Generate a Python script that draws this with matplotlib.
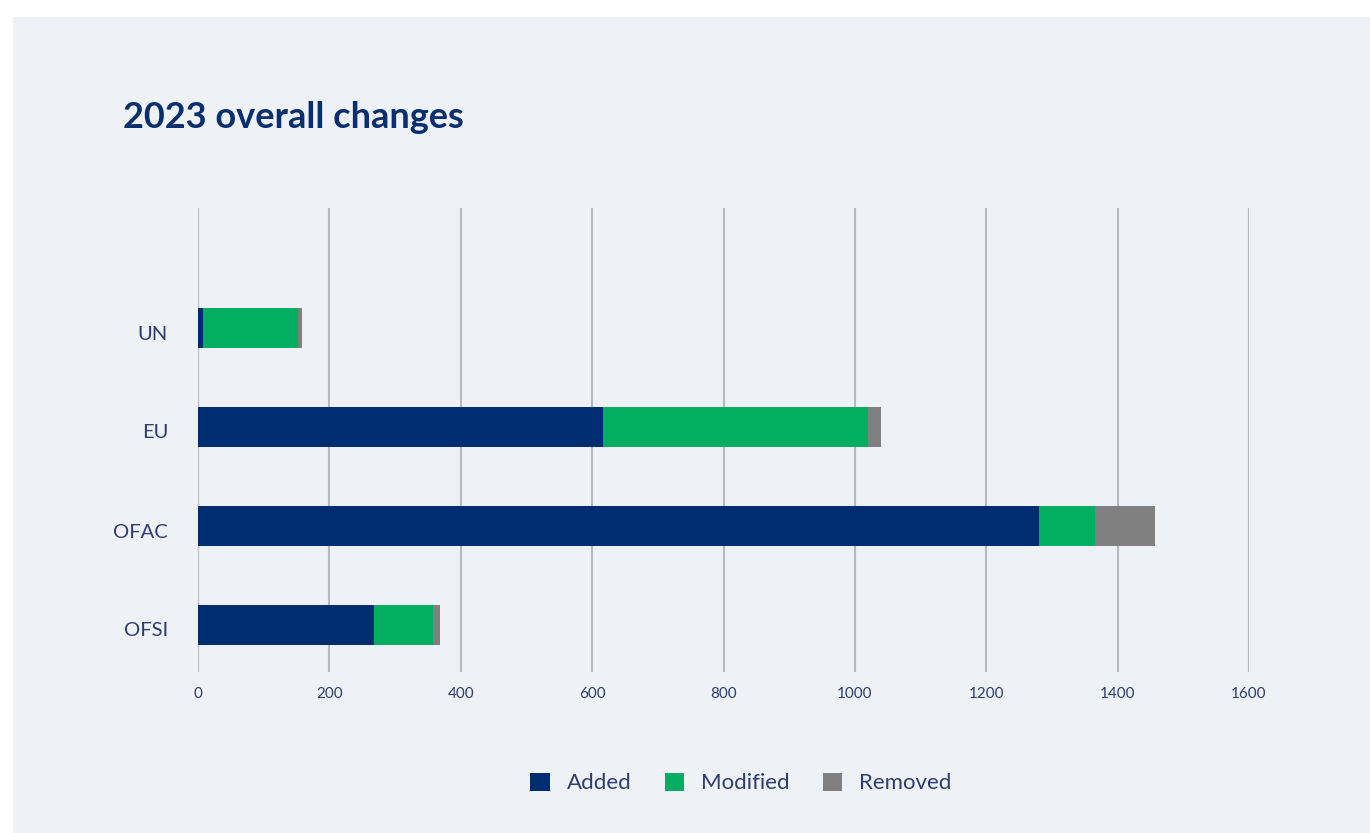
import matplotlib
matplotlib.use("Agg")
import matplotlib.pyplot as plt
from matplotlib.patches import Rectangle
import matplotlib.transforms as mtransforms
import numpy as np

categories = ["UN", "EU", "OFAC", "OFSI"]
added = [8, 617, 1280, 268]
modified = [144, 403, 86, 90]
removed = [6, 20, 91, 10]
series_names = ["Added", "Modified", "Removed"]
xticks = [0, 200, 400, 600, 800, 1000, 1200, 1400, 1600]

colors = ["#002d72", "#03ae62", "#808080"]
bg = "#eef2f6"
txt = "#2e3d6e"

plt.rcParams['font.family'] = ['Lato', 'DejaVu Sans']

W, H = 1370, 833
fig = plt.figure(figsize=(W/100, H/100), dpi=100)
fig.patch.set_facecolor("white")
fig.patches.append(Rectangle((13/W, 0), 1 - 13/W, (H-17)/H, transform=fig.transFigure,
                             facecolor=bg, edgecolor="none", zorder=-10))

ax = fig.add_axes([198/W, 1 - 672/H, (1249-198)/W, (672-208)/H])
ax.set_facecolor("none")

y = np.arange(len(categories))
left = np.zeros(len(categories))
for name, vals, c in zip(series_names, [added, modified, removed], colors):
    ax.barh(y, vals, left=left, height=0.41, color=c, label=name, zorder=3)
    left = left + np.array(vals)

ax.set_xlim(0, 1600)
ax.set_ylim(3 + 47/99, -120/99)
ax.set_xticks(xticks)
ax.set_xticklabels([str(t) for t in xticks], fontsize=11, color=txt)
ax.set_yticks(y)
ax.set_yticklabels([])
# category labels: right-aligned left of the axis, nudged slightly down
offset = mtransforms.ScaledTranslation(-30/100, -6/100, fig.dpi_scale_trans)
for yi, cat in zip(y, categories):
    ax.text(0, yi, cat, transform=ax.get_yaxis_transform() + offset,
            ha="right", va="center", fontsize=14.5, color=txt)
ax.tick_params(axis="both", length=0)
ax.tick_params(axis="x", pad=11)
ax.xaxis.grid(True, color="#b9b9b9", linewidth=1.5, zorder=0)
ax.yaxis.grid(False)
for s in ax.spines.values():
    s.set_visible(False)

fig.text(123/W, 1 - 117/H, "2023 overall changes", fontsize=26, fontweight="bold",
         color="#0a2f6e", va="center", ha="left")

handles = [Rectangle((0, 0), 1, 1, facecolor=c) for c in colors]
leg = fig.legend(handles, series_names, loc="center", bbox_to_anchor=(741/W, 1 - 783/H),
                 ncol=3, frameon=False, fontsize=16, handlelength=0.86, handleheight=0.86,
                 handletextpad=0.77, columnspacing=1.5)
for t in leg.get_texts():
    t.set_color(txt)

fig.savefig("out.png", dpi=100, facecolor=fig.get_facecolor())
